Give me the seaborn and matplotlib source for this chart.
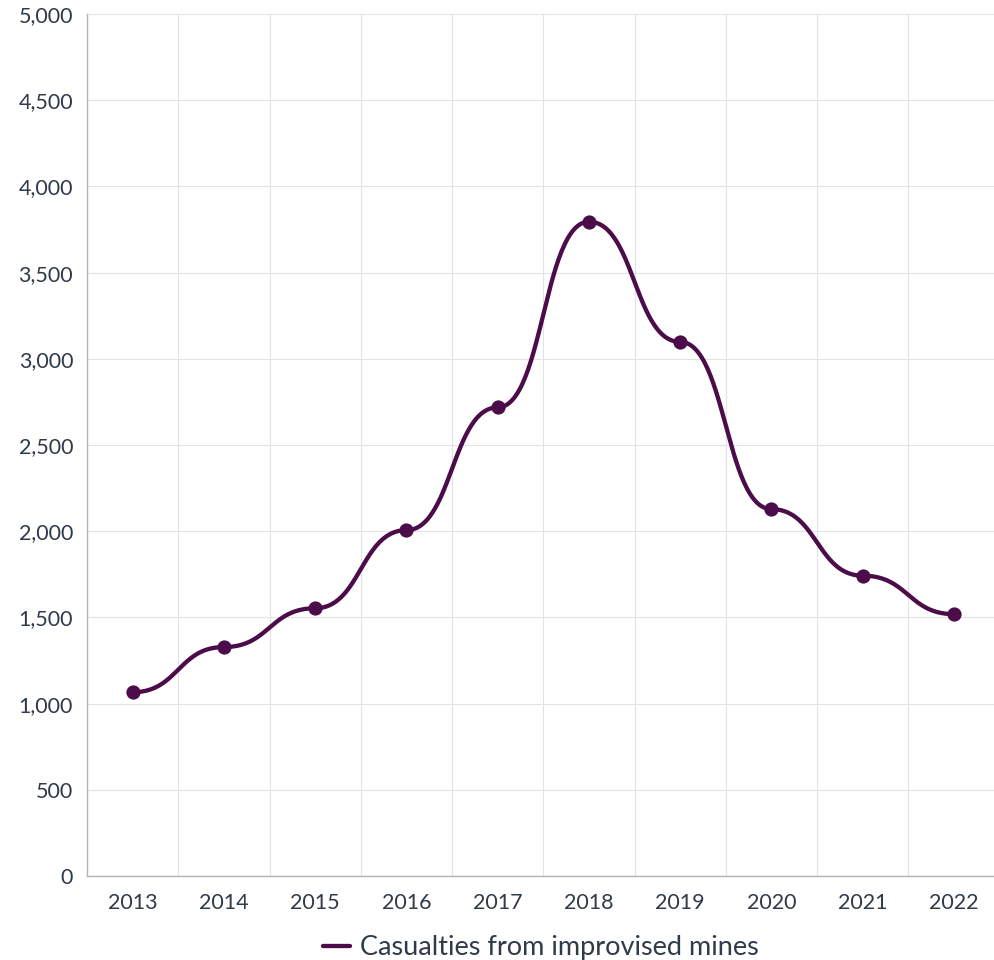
import numpy as np
import pandas as pd
import matplotlib
matplotlib.use("Agg")
import matplotlib.pyplot as plt
import seaborn as sns

# ----------------------------------------------------------
# Data
# ----------------------------------------------------------
years = ["2013", "2014", "2015", "2016", "2017", "2018", "2019", "2020", "2021", "2022"]
casualties = [1066, 1328, 1553, 2006, 2718, 3795, 3098, 2128, 1742, 1519]
series_name = "Casualties from improvised mines"

LINE = "#4b0c49"
TEXT = "#2f3a4a"
GRID = "#e3e3e3"
AXIS = "#b3b3b3"


def bump_curve(xs, ys, n=60):
    """Smooth S-shaped line through the points, flat at every point."""
    xs = np.asarray(xs, float)
    ys = np.asarray(ys, float)
    t = np.linspace(0, 1, n)
    out_x, out_y = [], []
    for i in range(1, len(xs)):
        x0, x1 = xs[i - 1], xs[i]
        y0, y1 = ys[i - 1], ys[i]
        xm = (x0 + x1) / 2
        bx = (1 - t) ** 3 * x0 + 3 * (1 - t) ** 2 * t * xm + 3 * (1 - t) * t ** 2 * xm + t ** 3 * x1
        by = (1 - t) ** 3 * y0 + 3 * (1 - t) ** 2 * t * y0 + 3 * (1 - t) * t ** 2 * y1 + t ** 3 * y1
        if i > 1:
            bx, by = bx[1:], by[1:]
        out_x.append(bx)
        out_y.append(by)
    return np.concatenate(out_x), np.concatenate(out_y)


# ----------------------------------------------------------
# Plot
# ----------------------------------------------------------
sns.set_theme(style="white")
plt.rcParams["font.family"] = ["Lato", "DejaVu Sans"]

x_idx = np.arange(len(years))
cx, cy = bump_curve(x_idx, casualties)
curve = pd.DataFrame({"x": cx, "y": cy})
points = pd.DataFrame({"x": x_idx, "y": casualties})

fig = plt.figure(figsize=(9.95, 9.6), dpi=100)
ax = fig.add_axes([87 / 995, 84 / 960, 908 / 995, 862 / 960])

sns.lineplot(data=curve, x="x", y="y", color=LINE, linewidth=3.1,
             sort=False, ax=ax, label=series_name, zorder=3)
sns.scatterplot(data=points, x="x", y="y", color=LINE, s=105,
                edgecolor=LINE, linewidth=0, ax=ax, zorder=4, legend=False)

ax.set_xlim(-0.5, 9.45)
ax.set_ylim(0, 5000)
ax.set_xticks(x_idx)
ax.set_xticklabels(years)
ax.set_xticks(x_idx[:-1] + 0.5, minor=True)
ax.set_yticks(np.arange(0, 5001, 500))
ax.yaxis.set_major_formatter(matplotlib.ticker.StrMethodFormatter("{x:,.0f}"))
ax.set_xlabel("")
ax.set_ylabel("")

ax.grid(axis="y", which="major", color=GRID, linewidth=0.8)
ax.grid(axis="x", which="minor", color=GRID, linewidth=0.8)
ax.set_axisbelow(True)

for side in ["top", "right"]:
    ax.spines[side].set_visible(False)
for side in ["left", "bottom"]:
    ax.spines[side].set_color(AXIS)
    ax.spines[side].set_linewidth(1.0)

ax.tick_params(axis="both", which="major", direction="out", length=5,
               width=1, color=AXIS, labelsize=15.5, labelcolor=TEXT)
ax.tick_params(axis="x", which="major", pad=7)
ax.tick_params(axis="y", which="major", pad=5)
ax.tick_params(axis="x", which="minor", length=0)

ax.legend(loc="center", bbox_to_anchor=(0.5, -0.083), frameon=False,
          fontsize=19.5, labelcolor=TEXT, handlelength=1.0, handletextpad=0.35)

fig.savefig("out.png", dpi=100)
